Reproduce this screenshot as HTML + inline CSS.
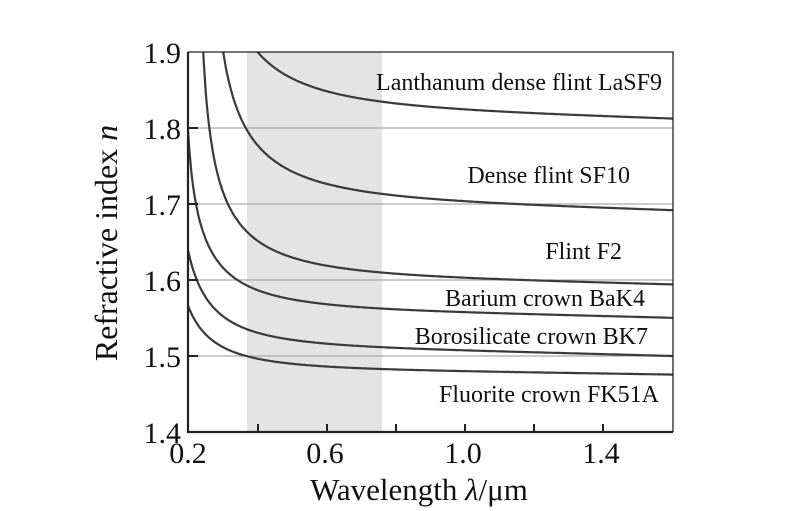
<!DOCTYPE html>
<html><head><meta charset="utf-8"><style>body{margin:0;background:#fff}svg{display:block}</style></head>
<body>
<svg id="s" width="800" height="511" xmlns="http://www.w3.org/2000/svg" font-family="Liberation Serif, serif">
<defs><clipPath id="c"><rect x="188" y="52" width="485" height="380"/></clipPath></defs>
<rect x="247" y="52" width="135" height="380" fill="#e4e4e4"/>
<g stroke="#aaa" stroke-width="1.2">
<line x1="188" x2="673" y1="128" y2="128"/><line x1="188" x2="673" y1="204" y2="204"/>
<line x1="188" x2="673" y1="280" y2="280"/><line x1="188" x2="673" y1="356" y2="356"/>
</g>
<g id="curves" clip-path="url(#c)" fill="none" stroke="#3a3a3a" stroke-width="2.2"></g>
<g stroke="#222" fill="none">
<path d="M188 52 L673 52 L673 432" stroke-width="1.3"/>
<path d="M188 52 L188 432 L673 432" stroke-width="2.2"/>
<g stroke-width="2"><line x1="188" x2="198" y1="128" y2="128"/><line x1="188" x2="198" y1="204" y2="204"/><line x1="188" x2="198" y1="280" y2="280"/><line x1="188" x2="198" y1="356" y2="356"/>
<line x1="258" x2="258" y1="432" y2="424"/><line x1="327" x2="327" y1="432" y2="424"/><line x1="396" x2="396" y1="432" y2="424"/><line x1="465" x2="465" y1="432" y2="424"/><line x1="534" x2="534" y1="432" y2="424"/><line x1="603" x2="603" y1="432" y2="424"/></g>
</g>
<g font-size="30" fill="#111" text-anchor="end">
<text x="181" y="63">1.9</text><text x="181" y="139">1.8</text><text x="181" y="215">1.7</text><text x="181" y="291">1.6</text><text x="181" y="367">1.5</text><text x="181" y="443">1.4</text>
</g>
<g font-size="30" fill="#111" text-anchor="middle">
<text x="188" y="463">0.2</text><text x="325" y="463">0.6</text><text x="463" y="463">1.0</text><text x="601" y="463">1.4</text>
<text x="419" y="500" font-size="31">Wavelength  <tspan font-style="italic">λ</tspan>/μm</text>
<text transform="translate(117 243) rotate(-90)" font-size="32">Refractive index <tspan font-style="italic">n</tspan></text>
</g>
<g font-size="24" fill="#111" text-anchor="end">
<text x="662" y="90">Lanthanum dense flint LaSF9</text>
<text x="630" y="183">Dense flint SF10</text>
<text x="622" y="259">Flint F2</text>
<text x="645" y="306">Barium crown BaK4</text>
<text x="648" y="344">Borosilicate crown BK7</text>
<text x="659" y="402">Fluorite crown FK51A</text>
</g>
</svg>
<script>
var G=[[1.03961212,0.231792344,1.01046945,0.00600069867,0.0200179144,103.560653],
[1.62153902,0.256287842,1.64447552,0.0122241457,0.0595736775,147.468793],
[1.34533359,0.209073176,0.937357162,0.00997743871,0.0470450767,111.886764],
[1.28834642,0.132817724,0.945395373,0.00779980626,0.0315631177,105.965875],
[0.971247817,0.216901417,0.904651666,0.00472301995,0.0153575612,168.68133],
[2.00029547,0.298926886,1.80691843,0.0121426017,0.0538736236,156.530829]];
var g=document.getElementById('curves'),ns='http://www.w3.org/2000/svg';
G.forEach(function(c){var d='',st=false;for(var i=0;i<=800;i++){var l=0.16+i*0.002,L=l*l;
var v=1+c[0]*L/(L-c[3])+c[1]*L/(L-c[4])+c[2]*L/(L-c[5]);if(!(L>c[4])||v<1)continue;var n=Math.sqrt(v);
var x=188+(l-0.2)*345,y=52+(1.9-n)*760;if(y<-200)continue;d+=(st?'L':'M')+x.toFixed(1)+' '+y.toFixed(1);st=true;}
var p=document.createElementNS(ns,'path');p.setAttribute('d',d);g.appendChild(p);});
</script>
</body></html>
